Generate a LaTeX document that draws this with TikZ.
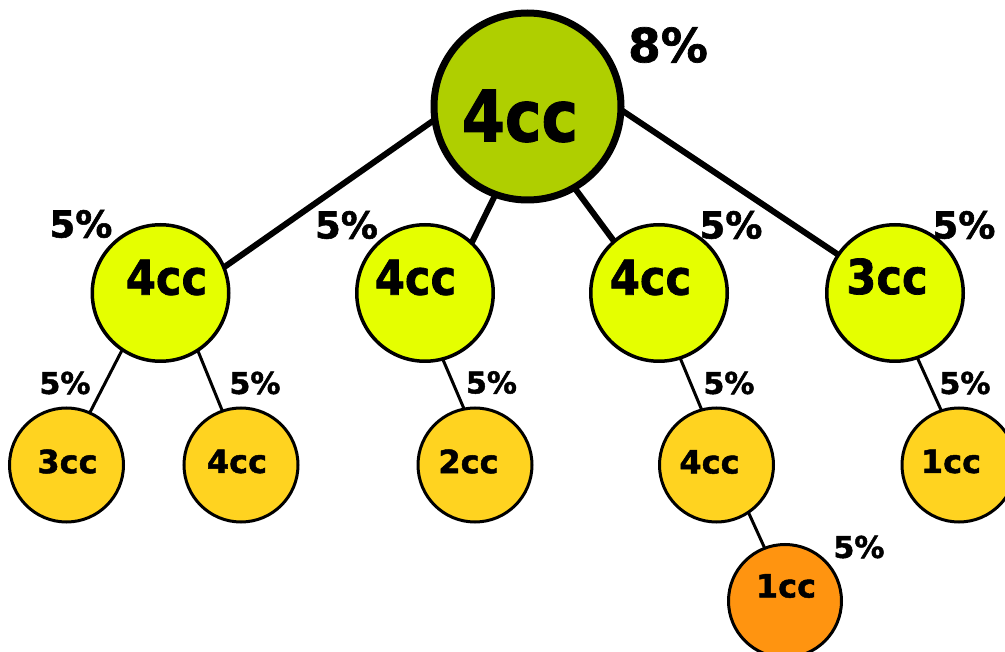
\documentclass[tikz,border=0pt]{standalone}
\usepackage{fontspec}
\setmainfont{DejaVu Sans}[BoldFeatures={FakeBold=1.5}]
\usetikzlibrary{backgrounds}
\definecolor{rootc}{RGB}{175,207,0}
\definecolor{lvtwo}{RGB}{229,255,0}
\definecolor{lvthree}{RGB}{255,211,32}
\definecolor{lvfour}{RGB}{255,148,16}
\tikzset{
  circ/.style={circle, draw=black, inner sep=0pt, outer sep=0pt},
  lvlA/.style={circ, fill=rootc, line width=7pt, minimum size=187pt},
  lvlB/.style={circ, fill=lvtwo, line width=3.5pt, minimum size=136.5pt},
  lvlC/.style={circ, fill=lvthree, line width=3pt, minimum size=114pt},
  lvlD/.style={circ, fill=lvfour, line width=3pt, minimum size=113pt},
  ccA/.style={inner sep=0pt, font=\fontsize{71}{71}\selectfont\bfseries},
  ccB/.style={inner sep=0pt, font=\fontsize{48}{48}\selectfont\bfseries},
  ccC/.style={inner sep=0pt, font=\fontsize{32}{32}\selectfont\bfseries},
  pctA/.style={inner sep=0pt, font=\fontsize{47}{47}\selectfont\bfseries},
  pctB/.style={inner sep=0pt, font=\fontsize{37}{37}\selectfont\bfseries},
  pctC/.style={inner sep=0pt, font=\fontsize{30}{30}\selectfont\bfseries},
  bigedge/.style={line width=6pt},
  smalledge/.style={line width=3pt},
}
\begin{document}
\begin{tikzpicture}[x=1pt,y=-1pt]
\useasboundingbox (0,0) rectangle (1005,652);
% circles
\node[lvlA] (r) at (527.5,106.5) {};
\node[lvlB] (a) at (160.5,293) {};
\node[lvlB] (b) at (425,293) {};
\node[lvlB] (c) at (659,293) {};
\node[lvlB] (d) at (895,293) {};
\node[lvlC] (a1) at (66.5,465) {};
\node[lvlC] (a2) at (241,465) {};
\node[lvlC] (b1) at (475,465) {};
\node[lvlC] (c1) at (716.5,465) {};
\node[lvlC] (d1) at (959,465) {};
\node[lvlD] (c2) at (785,601) {};
% texts
\node[ccA] (tr) at (520,116) {\scalebox{0.87}[1]{4cc}};
\node[ccB] (ta) at (166.5,277.5) {\scalebox{0.9}[1]{4cc}};
\node[ccB] (tb) at (415.5,277.5) {\scalebox{0.9}[1]{4cc}};
\node[ccB] (tc) at (650.5,277.5) {\scalebox{0.9}[1]{4cc}};
\node[ccB] (td) at (887,276.5) {\scalebox{0.9}[1]{3cc}};
\node[ccC] (ta1) at (67.5,461.5) {3cc};
\node[ccC] (ta2) at (237,461.5) {4cc};
\node[ccC] (tb1) at (468.5,461.5) {2cc};
\node[ccC] (tc1) at (709.5,462) {4cc};
\node[ccC] (td1) at (951,461.5) {1cc};
\node[ccC] (tc2) at (786,586) {1cc};
% percentages
\node[pctA] (pr) at (668,45) {8\%};
\node[pctB] (pa) at (81,224) {5\%};
\node[pctB] (pb) at (346.5,225) {5\%};
\node[pctB] (pc) at (731,225) {5\%};
\node[pctB] (pd) at (964,225) {5\%};
\node[pctC] (pa1) at (65,383) {5\%};
\node[pctC] (pa2) at (255,383) {5\%};
\node[pctC] (pb1) at (491.5,382.5) {5\%};
\node[pctC] (pc1) at (729,383) {5\%};
\node[pctC] (pd1) at (965,383) {5\%};
\node[pctC] (pc2) at (859,547) {5\%};
% edges
\begin{scope}[on background layer]
\draw[bigedge] (r.188.5) -- (a.22.8);
\draw[bigedge] (r.250) -- (b.47);
\draw[bigedge] (r.300) -- (c.131);
\draw[bigedge] (r.358) -- (d.146);
\draw[smalledge] (a.236.5) -- (a1.66);
\draw[smalledge] (a.303.5) -- (a2.109);
\draw[smalledge] (b.285) -- (b1.101.7);
\draw[smalledge] (c.288.7) -- (c1.105.8);
\draw[smalledge] (d.289) -- (d1.108.5);
\draw[smalledge] (c1.304) -- (c2.111);
\end{scope}
\end{tikzpicture}
\end{document}
